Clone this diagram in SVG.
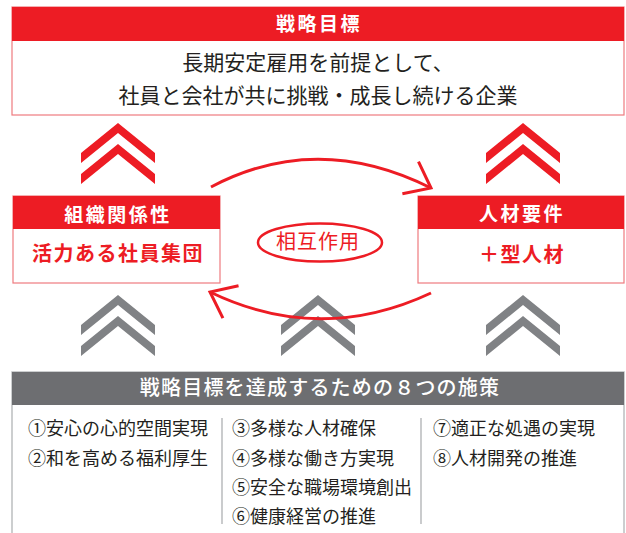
<svg xmlns="http://www.w3.org/2000/svg" xmlns:xlink="http://www.w3.org/1999/xlink" width="626" height="533" viewBox="0 0 626 533">
<style>
  .jp { font-family: "Noto Sans CJK JP", "Noto Sans", sans-serif; }
  .hdr { font-size: 19px; font-weight: 700; fill: #ffffff; text-anchor: middle; letter-spacing: 2.5px; }
  .body { font-size: 21px; font-weight: 400; fill: #231f20; text-anchor: middle; }
  .redbody { font-size: 20px; font-weight: 700; fill: #ed1c24; text-anchor: middle; letter-spacing: 1.5px; }
  .item { font-size: 18px; fill: #231f20; }
  .red { fill: #ed1c24; }
  .frame { fill: #ffffff; stroke: #ef7b7f; stroke-width: 1.2; }
  .gray { fill: #808285; }
  .conn { fill: none; stroke: #ed1c24; stroke-width: 3; }
  .sep { stroke: #a7a9ac; stroke-width: 1.2; }
</style>
<defs>
  <path id="chev" d="M0,0 L37,30 L37,40 L0,10 L-37,40 L-37,30 Z M0,21 L37,51 L37,61 L0,31 L-37,61 L-37,51 Z"/>
  <marker id="ah" markerUnits="userSpaceOnUse" orient="auto" markerWidth="60" markerHeight="60" viewBox="-30 -30 60 60" refX="0" refY="0" overflow="visible">
    <path d="M-23,-18 L0,0 L-23,18" fill="none" stroke="#ed1c24" stroke-width="3"/>
  </marker>
</defs>
<rect width="626" height="533" fill="#ffffff"/>

<g id="goal">
  <rect class="frame" x="12" y="7" width="612" height="108"/>
  <rect class="red" x="12" y="7" width="612" height="34"/>
  <text class="jp hdr" x="319" y="31" font-size="20">戦略目標</text>
  <text class="jp body" x="318" y="70">長期安定雇用を前提として、</text>
  <text class="jp body" x="318" y="103">社員と会社が共に挑戦・成長し続ける企業</text>
</g>

<g id="chevrons-red">
  <use href="#chev" xlink:href="#chev" class="red" x="118" y="123"/>
  <use href="#chev" xlink:href="#chev" class="red" x="523" y="123"/>
</g>

<g id="org">
  <rect class="frame" x="13" y="196" width="207" height="87"/>
  <rect class="red" x="13" y="196" width="207" height="33"/>
  <text class="jp hdr" x="118" y="222">組織関係性</text>
  <text class="jp redbody" x="118" y="261">活力ある社員集団</text>
</g>

<g id="talent">
  <rect class="frame" x="418" y="196" width="206" height="87"/>
  <rect class="red" x="418" y="196" width="206" height="33"/>
  <text class="jp hdr" x="522" y="221">人材要件</text>
  <text class="jp redbody" x="522" y="262">＋型人材</text>
</g>

<g id="chevrons-gray">
  <use href="#chev" xlink:href="#chev" class="gray" x="118" y="295"/>
  <use href="#chev" xlink:href="#chev" class="gray" x="318" y="295"/>
  <use href="#chev" xlink:href="#chev" class="gray" x="523" y="295"/>
</g>

<g id="connectors">
  <path class="conn" d="M211,187 Q317,131 431,188" marker-end="url(#ah)"/>
  <path class="conn" d="M431,293 Q320,345 210,292" marker-end="url(#ah)"/>
</g>

<g id="interaction">
  <ellipse cx="320" cy="242.5" rx="62" ry="19" fill="none" stroke="#ed1c24" stroke-width="2.5"/>
  <text class="jp" x="318" y="249" font-size="20" fill="#ed1c24" text-anchor="middle" letter-spacing="1">相互作用</text>
</g>

<g id="measures">
  <rect x="12" y="372" width="612" height="175" fill="#ffffff" stroke="#bcbec0" stroke-width="1.5"/>
  <rect x="12" y="372" width="612" height="33" fill="#6d6e71"/>
  <text class="jp" x="320" y="395" font-size="20" font-weight="500" fill="#ffffff" text-anchor="middle" letter-spacing="1.2">戦略目標を達成するための８つの施策</text>
  <line class="sep" x1="222" y1="418" x2="222" y2="524"/>
  <line class="sep" x1="421" y1="418" x2="421" y2="524"/>
  <text class="jp item" x="28" y="435">①安心の心的空間実現</text>
  <text class="jp item" x="28" y="465">②和を高める福利厚生</text>
  <text class="jp item" x="232" y="435">③多様な人材確保</text>
  <text class="jp item" x="232" y="465">④多様な働き方実現</text>
  <text class="jp item" x="232" y="494">⑤安全な職場環境創出</text>
  <text class="jp item" x="232" y="523">⑥健康経営の推進</text>
  <text class="jp item" x="433" y="435">⑦適正な処遇の実現</text>
  <text class="jp item" x="433" y="465">⑧人材開発の推進</text>
</g>
</svg>
